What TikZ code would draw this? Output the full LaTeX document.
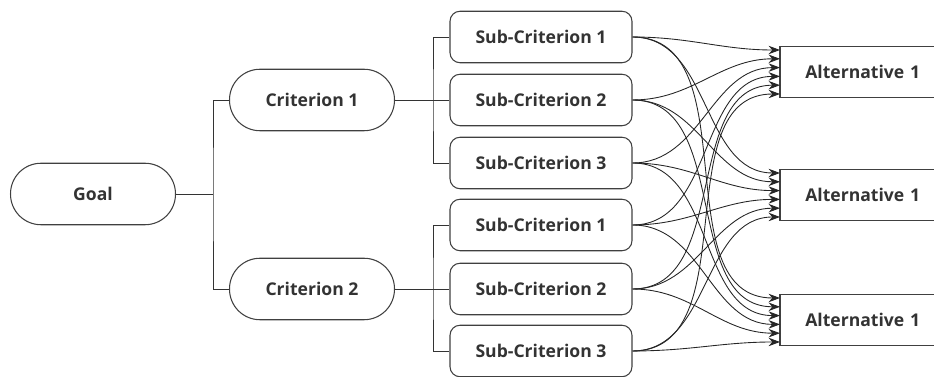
\documentclass[tikz,border=0pt]{standalone}
\usepackage{fontspec}
\setmainfont{Open Sans}
\usetikzlibrary{arrows.meta}

\tikzset{
  stadium/.style={draw=black!75, line width=0.6pt, rectangle, rounded corners=0.61cm,
    minimum width=3.3cm, minimum height=1.23cm, font=\fontsize{10}{11}\selectfont\bfseries, text=black!80},
  subbox/.style={draw=black!75, line width=0.6pt, rectangle, rounded corners=0.2cm,
    minimum width=3.64cm, minimum height=1.03cm, font=\fontsize{10}{11}\selectfont\bfseries, text=black!80},
  altbox/.style={rectangle, anchor=west, text width=3.5cm, inner xsep=0.5cm, align=left,
    minimum height=1.0cm, font=\fontsize{10}{11}\selectfont\bfseries, text=black!80},
  altedge/.style={draw=black!75, line width=0.6pt},
  link/.style={draw=black!80, line width=0.5pt},
  flow/.style={draw=black!85, line width=0.5pt, -{Stealth[length=6.5pt,width=4.8pt]}}
}

\begin{document}
\begin{tikzpicture}[x=0.02cm, y=-0.02cm]
  \useasboundingbox (0,0) rectangle (934,377);
  \node[stadium] (goal) at (93,194) {Goal};
  \node[stadium] (crit1) at (312,100) {Criterion 1};
  \node[stadium] (crit2) at (312,289) {Criterion 2};
  \node[subbox] (sub1) at (541,37) {Sub-Criterion 1};
  \node[subbox] (sub2) at (541,100) {Sub-Criterion 2};
  \node[subbox] (sub3) at (541,163) {Sub-Criterion 3};
  \node[subbox] (sub4) at (541,225) {Sub-Criterion 1};
  \node[subbox] (sub5) at (541,289) {Sub-Criterion 2};
  \node[subbox] (sub6) at (541,351) {Sub-Criterion 3};
  \node[altbox] (alt1) at (780,72) {Alternative 1};
  \node[altbox] (alt2) at (780,195) {Alternative 1};
  \node[altbox] (alt3) at (780,320) {Alternative 1};
  % Draw the alternatives, cut at the right
  \foreach \a in {alt1,alt2,alt3} {
    \draw[altedge] (\a.north east) -- (\a.north west) -- (\a.south west) -- (\a.south east);
  }
  \coordinate (bus0) at (213,194);
  \coordinate (bus1) at (433,100);
  \coordinate (bus2) at (433,289);
  % Draw the tree
  \draw[link] (goal.east) -- (bus0);
  \draw[link] (crit1.west) -| (bus0) |- (crit2.west);
  \draw[link] (crit1.east) -- (sub2.west);
  \draw[link] (sub1.west) -| (bus1) |- (sub3.west);
  \draw[link] (crit2.east) -- (sub5.west);
  \draw[link] (sub4.west) -| (bus2) |- (sub6.west);
  % Draw the links to the alternatives
  \foreach \s in {1,...,6} {
    \foreach \a in {1,2,3} {
      \draw[flow] (sub\s.east) to[out=0, in=180] ([yshift={0.44cm-(\s-1)*0.176cm}]alt\a.west);
    }
  }
\end{tikzpicture}
\end{document}
